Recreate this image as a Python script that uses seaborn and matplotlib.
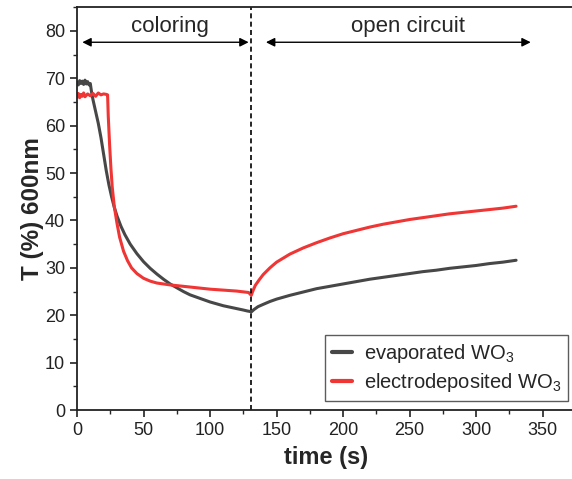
import pandas as pd
import matplotlib
matplotlib.use("Agg")
import matplotlib.pyplot as plt
import seaborn as sns
from matplotlib.ticker import MultipleLocator

# Datos: T (%) a 600 nm frente al tiempo
t_evap = [0, 1, 2, 3, 4, 5, 6, 7, 8, 9, 10, 11, 12, 14, 16, 18, 20, 22, 24, 26,
          28, 30, 33, 36, 40, 45, 50, 55, 60, 65, 70, 75, 80, 85, 90, 95, 100,
          105, 110, 115, 120, 125, 128, 130, 131, 133, 136, 140, 145, 150, 160,
          170, 180, 190, 200, 210, 220, 230, 240, 250, 260, 270, 280, 290, 300,
          310, 320, 325, 330]
T_evap = [69.2, 68.6, 69.5, 68.9, 69.4, 68.7, 69.6, 68.8, 69.3, 68.6, 68.9, 67.0,
          65.5, 63.0, 60.5, 57.5, 54.0, 50.5, 47.5, 45.0, 42.8, 41.0, 38.8, 37.0,
          35.0, 33.0, 31.3, 29.9, 28.7, 27.6, 26.6, 25.8, 25.0, 24.3, 23.8, 23.3,
          22.8, 22.4, 22.0, 21.7, 21.4, 21.1, 20.9, 20.8, 20.7, 21.2, 21.8, 22.3,
          22.9, 23.4, 24.2, 24.9, 25.6, 26.1, 26.6, 27.1, 27.6, 28.0, 28.4, 28.8,
          29.2, 29.5, 29.9, 30.2, 30.5, 30.9, 31.2, 31.4, 31.6]

t_elec = [0, 1, 2, 3, 4, 5, 6, 8, 10, 12, 14, 16, 18, 20, 22, 23, 23.5, 24.5,
          25.5, 26.5, 28, 30, 32, 35, 38, 41, 45, 50, 55, 60, 70, 80, 90, 100,
          110, 120, 126, 129, 131, 132, 134, 137, 140, 145, 150, 160, 170, 180,
          190, 200, 210, 220, 230, 240, 250, 260, 270, 280, 290, 300, 310, 320,
          325, 330]
T_elec = [66.0, 66.8, 65.9, 66.6, 66.2, 66.9, 66.1, 66.7, 66.3, 66.8, 66.2, 66.9,
          66.5, 66.7, 66.6, 66.5, 62.0, 56.0, 51.0, 47.0, 43.0, 39.5, 36.5, 33.5,
          31.5, 30.0, 28.8, 27.8, 27.2, 26.8, 26.4, 26.1, 25.8, 25.5, 25.3, 25.1,
          24.9, 24.8, 24.2, 25.0, 26.3, 27.5, 28.6, 30.0, 31.2, 32.9, 34.2, 35.3,
          36.3, 37.2, 37.9, 38.6, 39.2, 39.7, 40.2, 40.6, 41.0, 41.4, 41.7, 42.0,
          42.3, 42.6, 42.8, 43.0]

etiquetas = ["evaporated WO$_3$", "electrodeposited WO$_3$"]
colores = ["#474747", "#f03535"]

df = pd.concat([
    pd.DataFrame({"t": t_evap, "T": T_evap, "muestra": etiquetas[0]}),
    pd.DataFrame({"t": t_elec, "T": T_elec, "muestra": etiquetas[1]}),
])

sns.set_style("ticks")
plt.rcParams["font.family"] = ["Liberation Sans", "DejaVu Sans"]
plt.rcParams["mathtext.fontset"] = "custom"
plt.rcParams["mathtext.rm"] = "Liberation Sans"
plt.rcParams["mathtext.it"] = "Liberation Sans:italic"

fig = plt.figure(figsize=(5.72, 4.79), dpi=100)
ax = fig.add_axes([0.1346, 0.144, 0.87, 0.841])

sns.lineplot(data=df, x="t", y="T", hue="muestra", palette=colores,
             linewidth=2.2, ax=ax, sort=False, estimator=None)

ax.set_xlim(0, 374)
ax.set_ylim(0, 85)
ax.xaxis.set_major_locator(MultipleLocator(50))
ax.xaxis.set_minor_locator(MultipleLocator(25))
ax.yaxis.set_major_locator(MultipleLocator(10))
ax.yaxis.set_minor_locator(MultipleLocator(5))
ax.tick_params(axis="both", which="major", labelsize=13, length=5, width=1.2,
               direction="out", colors="#222222")
ax.tick_params(axis="both", which="minor", length=3, width=1.0, direction="out")
for lado in ["left", "bottom", "top", "right"]:
    ax.spines[lado].set_linewidth(1.3)
    ax.spines[lado].set_color("#222222")

ax.set_xlabel("time (s)", fontsize=17, fontweight="bold", labelpad=5)
ax.set_ylabel("T (%) 600nm", fontsize=17.5, fontweight="bold", labelpad=1)

# linea que separa coloracion y circuito abierto
ax.axvline(130.5, color="black", linestyle=(0, (3, 2)), linewidth=1.2)

flecha = dict(arrowstyle="<|-|>", color="black", lw=1.0,
              mutation_scale=13, shrinkA=0, shrinkB=0)
ax.annotate("", xy=(4, 77.6), xytext=(129, 77.6), arrowprops=flecha)
ax.annotate("", xy=(142, 77.6), xytext=(341, 77.6), arrowprops=flecha)
ax.text(70, 81.0, "coloring", fontsize=16, ha="center", va="center")
ax.text(249, 81.0, "open circuit", fontsize=16, ha="center", va="center")

leg = ax.legend(loc="lower right", fontsize=14.5, frameon=True, fancybox=False,
                handlelength=1.0, handletextpad=0.6, borderpad=0.35,
                labelspacing=0.3, borderaxespad=0,
                bbox_to_anchor=(0.987, 0.022))
leg.get_frame().set_edgecolor("#333333")
leg.get_frame().set_linewidth(1.0)
for linea in leg.get_lines():
    linea.set_linewidth(3)

fig.savefig("out.png", dpi=100)
